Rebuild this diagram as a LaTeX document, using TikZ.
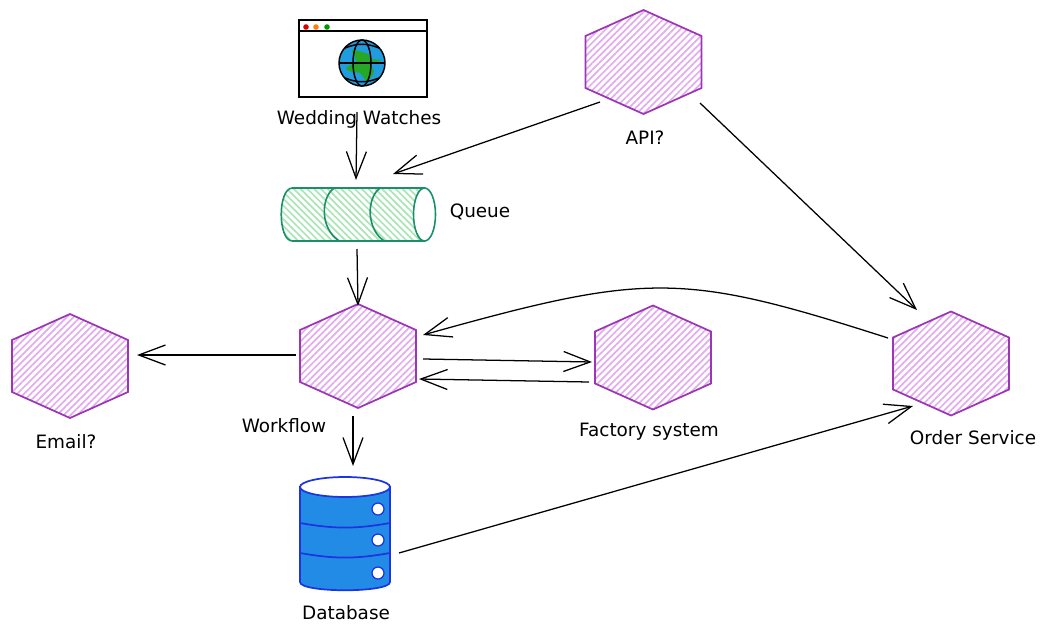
\documentclass[tikz,border=0pt]{standalone}
\usepackage{fontspec}
\setmainfont{DejaVu Sans}
\usetikzlibrary{arrows.meta,patterns.meta,shapes.geometric}
\definecolor{hexline}{HTML}{9C36B5}
\definecolor{hexhatch}{HTML}{E2ADEF}
\definecolor{queueline}{HTML}{1B8F6A}
\definecolor{queuehatch}{HTML}{ABE5B6}
\definecolor{dbline}{HTML}{1C35E0}
\definecolor{dbfill}{HTML}{228BE6}
\tikzset{
	every path/.style={line width=0.95pt},
	flow/.style={-{Straight Barb[length=20pt,width=15pt,line width=0.95pt]},black},
	hexnode/.style={regular polygon,regular polygon sides=6,regular polygon rotate=30,transform shape,xscale=1.288,
		minimum size=78pt,inner sep=0pt,outer sep=0pt,draw=hexline,line width=1.3pt,
		pattern={Lines[angle=45,distance=3.6pt,line width=1.3pt]},pattern color=hexhatch},
	holder/.style={rectangle,inner sep=0pt,outer sep=0pt},
	queueedge/.style={queueline,line width=1.2pt},
	dbedge/.style={dbline,line width=1.3pt},
	caption/.style={font=\fontsize{13.8}{16}\selectfont,black},
}
\begin{document}
\begin{tikzpicture}[x=0.75pt,y=-0.75pt]
	\useasboundingbox (0,0) rectangle (1049,635);

	%browser window.....................
	\node [draw,line width=1.4pt,holder,minimum width=96pt,minimum height=57.75pt] (web) at (363,58.5) {};
	\draw [line width=1.2pt] (web.north west) ++(0,11) to ++(128,0);
	\fill [red!85!black] (306,27) circle (2.8);
	\fill [orange] (316,27) circle (2.8);
	\fill [green!60!black] (327,27) circle (2.8);

	%globe.....................
	\node [circle,fill=cyan!80!blue!90,minimum size=34pt,inner sep=0pt] (globe) at (362,63) {};
	\fill [green!60!black!85] plot [smooth cycle] coordinates {(352,50) (368,54) (371,59) (382,60) (371,64) (374,72) (367,81) (360,73) (352,72) (346,68) (356,61)};
	\draw [line width=1.1pt] (globe) circle (23);
	\draw [line width=1.1pt] (globe) ellipse (9 and 23);
	\draw [line width=1.1pt] (339,63) to (385,63);
	\draw [line width=1.1pt] (345,48) to [bend left=22] (379,48);
	\draw [line width=1.1pt] (345,78) to [bend right=22] (379,78);

	%queue.....................
	\node [holder,minimum width=116pt,minimum height=39.75pt] (queue) at (358.5,214.5) {};
	\draw [queueedge,pattern={Lines[angle=-45,distance=3.6pt,line width=1.3pt]},pattern color=queuehatch]
		([shift={(-66,-26.5)}]queue.center) to ([shift={(66,-26.5)}]queue.center) to ([shift={(66,26.5)}]queue.center) to ([shift={(-66,26.5)}]queue.center)
		.. controls ([shift={(-81,26.5)}]queue.center) and ([shift={(-81,-26.5)}]queue.center) .. cycle;
	\draw [queueedge,fill=white] ([shift={(66,0)}]queue.center) ellipse (11 and 26.5);
	\draw [queueedge] ([shift={(-25,-26)}]queue.center) .. controls ([shift={(-38,-16)}]queue.center) and ([shift={(-38,14)}]queue.center) .. ([shift={(-20,26)}]queue.center);
	\draw [queueedge] ([shift={(21,-26)}]queue.center) .. controls ([shift={(8,-16)}]queue.center) and ([shift={(8,14)}]queue.center) .. ([shift={(25,26)}]queue.center);

	%hexagons.....................
	\node [hexnode] (api) at (643.5,62) {};
	\node [hexnode] (workflow) at (358,356) {};
	\node [hexnode] (email) at (70,366) {};
	\node [hexnode] (factory) at (653,357.5) {};
	\node [hexnode] (order) at (951,363.5) {};

	%database.....................
	\node [holder,minimum width=67.5pt,minimum height=86pt] (db) at (345,533) {};
	\draw [dbedge,fill=dbfill] ([shift={(-45,-46)}]db.center) to ([shift={(45,-46)}]db.center) to ([shift={(45,49)}]db.center)
		.. controls ([shift={(45,60)}]db.center) and ([shift={(-45,60)}]db.center) .. ([shift={(-45,49)}]db.center) -- cycle;
	\draw [dbedge,fill=white] ([shift={(0,-46)}]db.center) ellipse (45 and 10);
	\draw [dbedge] ([shift={(-45,-10)}]db.center) to [bend right=10] ([shift={(45,-10)}]db.center);
	\draw [dbedge] ([shift={(-45,20)}]db.center) to [bend right=10] ([shift={(45,20)}]db.center);
	\foreach \holey in {-24,7,40}
		\draw [dbline,fill=white] ([shift={(33,\holey)}]db.center) circle (6);

	%labels.....................
	\node [caption] (weblabel) at (359,119) {Wedding Watches};
	\node [caption] (queuelabel) at (480,212) {Queue};
	\node [caption] (apilabel) at (645,138) {API?};
	\node [caption] (workflowlabel) at (284,426) {Workflow};
	\node [caption] (emaillabel) at (66,442) {Email?};
	\node [caption] (factorylabel) at (649,432) {Factory system};
	\node [caption] (orderlabel) at (973,438) {Order Service};
	\node [caption] (dblabel) at (346,613) {Database};

	%connectors.....................
	\draw [flow] ([shift={(-6,15)}]web.south) to ([shift={(-2.5,-34.5)}]queue.center);
	\draw [flow] ([shift={(-43.5,40)}]api.center) to ([shift={(34.5,-40.5)}]queue.center);
	\draw [flow] ([shift={(56.5,41)}]api.center) to ([shift={(-34,-53.5)}]order.center);
	\draw [flow] ([shift={(-1.5,34.5)}]queue.center) to ([shift={(0,-50)}]workflow.center);
	\draw [flow] ([shift={(-63,-25.5)}]order.center) .. controls (682,272) and (648,272) .. ([shift={(65,-21)}]workflow.center);
	\draw [flow] ([shift={(-62,-1)}]workflow.center) to ([shift={(67,-11)}]email.center);
	\draw [flow] ([shift={(65,3)}]workflow.center) to ([shift={(-61,4.5)}]factory.center);
	\draw [flow] ([shift={(-64,24.5)}]factory.center) to ([shift={(61,23)}]workflow.center);
	\draw [flow] ([shift={(-5,60)}]workflow.center) to ([shift={(8,-67)}]db.center);
	\draw [flow] ([shift={(54,20)}]db.center) to ([shift={(-38,42.5)}]order.center);
\end{tikzpicture}
\end{document}
